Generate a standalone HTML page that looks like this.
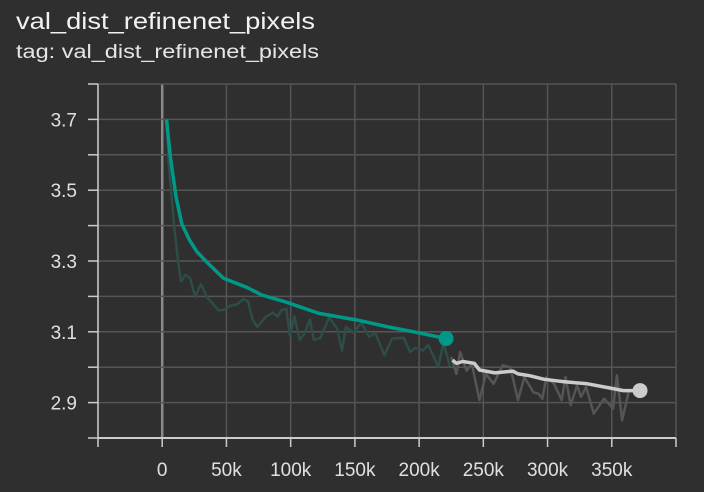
<!DOCTYPE html>
<html><head><meta charset="utf-8"><style>
html,body{margin:0;padding:0;background:#2f2f2f;}
svg{display:block;font-family:"Liberation Sans",sans-serif;}
</style></head><body>
<svg id="chart" width="704" height="492" viewBox="0 0 704 492">
<rect x="0" y="0" width="704" height="492" fill="#2f2f2f"/>
<text x="16" y="29" font-size="23" fill="#f2f2f2" textLength="299" lengthAdjust="spacingAndGlyphs">val_dist_refinenet_pixels</text>
<text x="16" y="58" font-size="19" fill="#e6e6e6" textLength="303" lengthAdjust="spacingAndGlyphs">tag: val_dist_refinenet_pixels</text>
<g id="grid"></g><g id="axes"></g><g id="series"></g>
</svg>
<script>
const xTicks=[-50000,0,50000,100000,150000,200000,250000,300000,350000,400000];
const xTickLabels=["","0","50k","100k","150k","200k","250k","300k","350k",""];
const yTicks=[2.8,2.9,3.0,3.1,3.2,3.3,3.4,3.5,3.6,3.7,3.8];
const yTickLabels=["","2.9","","3.1","","3.3","","3.5","","3.7",""];
const tealSmoothSteps=[3300,6300,10700,15200,21200,27100,35800,47700,65600,77500,95400,122000,152000,173000,197000,221000];
const tealSmoothValues=[3.700,3.595,3.482,3.406,3.359,3.326,3.293,3.251,3.226,3.204,3.185,3.152,3.133,3.116,3.099,3.081];
const tealRawSteps=[3300,4800,9300,12200,14600,18200,21800,25600,30100,34700,43700,48100,52600,58500,63000,66600,70500,74000,80900,86200,89800,92800,96700,99400,103000,107000,111000,115000,118000,123000,130000,136000,140000,143000,149000,155000,161000,166000,173000,179000,188000,193000,197000,203000,207000,215000,219000,224000];
const tealRawValues=[3.700,3.585,3.397,3.303,3.242,3.261,3.251,3.199,3.235,3.199,3.161,3.162,3.173,3.178,3.192,3.187,3.133,3.114,3.143,3.154,3.143,3.161,3.165,3.088,3.144,3.077,3.097,3.135,3.077,3.082,3.141,3.110,3.047,3.114,3.097,3.126,3.086,3.096,3.034,3.081,3.083,3.043,3.055,3.047,3.063,3.001,3.070,3.001];
const greySmoothSteps=[226000,229000,234000,243000,247000,259000,273000,277000,286000,297000,306000,313000,331000,350000,359000,372000];
const greySmoothValues=[3.020,3.011,3.016,3.011,2.992,2.984,2.989,2.981,2.976,2.966,2.962,2.959,2.953,2.940,2.934,2.934];
const greyRawSteps=[225000,229000,232000,237000,241000,247000,252000,258000,265000,271000,277000,282000,289000,293000,296000,299000,305000,311000,314000,318000,323000,326000,330000,336000,344000,351000,354000,358000,363000];
const greyRawValues=[3.029,2.981,3.043,2.990,3.010,2.907,2.981,2.953,3.005,3.000,2.907,2.972,2.929,2.925,2.911,2.972,2.953,2.907,2.972,2.893,2.949,2.916,2.944,2.869,2.911,2.883,2.977,2.850,2.929];

const X0=98,X1=676,Y0=84,Y1=438;
const xMin=-50000,xMax=400000,yMin=2.8,yMax=3.8;
function xs(v){return X0+(v-xMin)/(xMax-xMin)*(X1-X0);}
function ys(v){return Y1-(v-yMin)/(yMax-yMin)*(Y1-Y0);}
const NS="http://www.w3.org/2000/svg";
function mk(tag,attrs,parent){const e=document.createElementNS(NS,tag);for(const k in attrs)e.setAttribute(k,attrs[k]);parent.appendChild(e);return e;}
const grid=document.getElementById('grid'),axes=document.getElementById('axes'),series=document.getElementById('series');
xTicks.forEach((t,i)=>{
  const x=xs(t);
  const g=mk('line',{x1:x,y1:Y0,x2:x,y2:Y1,stroke:t===0?'#8a8a8a':'#555',"stroke-width":t===0?2.5:1.5},grid);
  
  
  const tk=mk('line',{x1:x,y1:Y1,x2:x,y2:Y1+9,stroke:'#ccc',"stroke-width":1.5},axes);
  
  
  if(xTickLabels[i]){
    const tx=mk('text',{x:x,y:476,"font-size":19,fill:'#e0e0e0',"text-anchor":'middle'},axes);
    tx.textContent=xTickLabels[i];
    
    
  }
});
yTicks.forEach((t,i)=>{
  const y=ys(t);
  const g=mk('line',{x1:X0,y1:y,x2:X1,y2:y,stroke:'#555',"stroke-width":1.5},grid);
  
  
  const tk=mk('line',{x1:X0-10,y1:y,x2:X0,y2:y,stroke:'#ccc',"stroke-width":1.5},axes);
  
  
  if(yTickLabels[i]){
    const tx=mk('text',{x:77,y:y+7,"font-size":19,fill:'#e0e0e0',"text-anchor":'end'},axes);
    tx.textContent=yTickLabels[i];
    
    
  }
});
const xa=mk('line',{x1:X0,y1:Y1,x2:X1,y2:Y1,stroke:'#ccc',"stroke-width":2},axes);


const ya=mk('line',{x1:X0,y1:Y0,x2:X0,y2:Y1,stroke:'#ccc',"stroke-width":1.5},axes);


function pts(s,v){return s.map((d,i)=>xs(d).toFixed(1)+','+ys(v[i]).toFixed(1)).join(' ');}
const r1=mk('polyline',{points:pts(tealRawSteps,tealRawValues),fill:'none',stroke:'#2c4d48',"stroke-width":2.5,"stroke-linejoin":'round'},series);


const r2=mk('polyline',{points:pts(greyRawSteps,greyRawValues),fill:'none',stroke:'#555555',"stroke-width":2.5,"stroke-linejoin":'round'},series);


const s1=mk('polyline',{points:pts(tealSmoothSteps,tealSmoothValues),fill:'none',stroke:'#009988',"stroke-width":3.5,"stroke-linejoin":'round'},series);


const s2=mk('polyline',{points:pts(greySmoothSteps,greySmoothValues),fill:'none',stroke:'#cccccc',"stroke-width":3.5,"stroke-linejoin":'round'},series);


const n1=tealSmoothSteps.length-1;
const d1=mk('circle',{cx:xs(tealSmoothSteps[n1]),cy:ys(tealSmoothValues[n1]),r:7.5,fill:'#009988'},series);


const n2=greySmoothSteps.length-1;
const d2=mk('circle',{cx:xs(greySmoothSteps[n2]),cy:ys(greySmoothValues[n2]),r:7.5,fill:'#cccccc'},series);


</script>
</body></html>
